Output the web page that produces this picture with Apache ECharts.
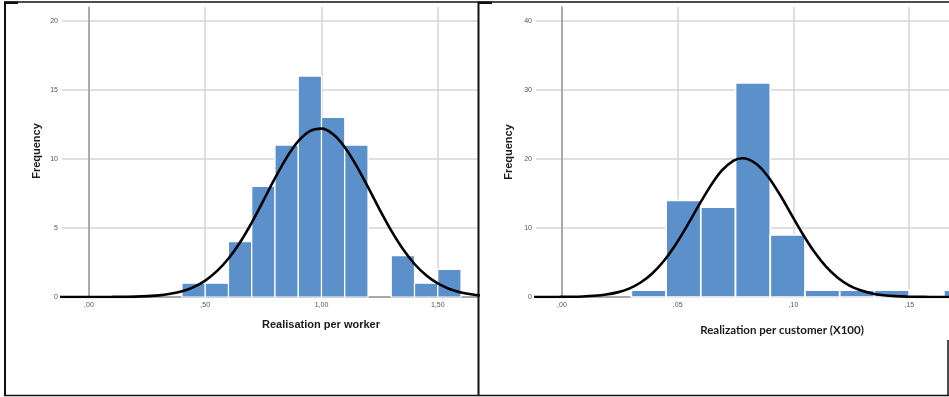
<!DOCTYPE html>
<html><head><meta charset="utf-8">
<script src="https://cdn.jsdelivr.net/npm/echarts@6/dist/echarts.min.js"></script>
<style>html,body{margin:0;padding:0;background:#fff}#c{width:949px;height:397px}</style>
</head><body><div id="c"></div>
<script>
// ---------- Left histogram: Realisation per worker ----------
const leftBinStarts = [0.4, 0.5, 0.6, 0.7, 0.8, 0.9, 1.0, 1.1, 1.2, 1.3, 1.4, 1.5];
const leftBinWidth = 0.1;
const leftCounts = [1, 1, 4, 8, 11, 16, 13, 11, 0, 3, 1, 2];
const leftCurveX = [-0.15, -0.1, 0, 0.1, 0.2, 0.3, 0.35, 0.4, 0.45, 0.5, 0.55, 0.6, 0.65, 0.7, 0.75, 0.8, 0.85, 0.9, 0.95, 1.0, 1.05, 1.1, 1.15, 1.2, 1.25, 1.3, 1.35, 1.4, 1.45, 1.5, 1.55, 1.6, 1.65, 1.7];
const leftCurveY = [0, 0, 0.001, 0.006, 0.03, 0.12, 0.23, 0.41, 0.72, 1.19, 1.87, 2.79, 3.97, 5.39, 6.98, 8.60, 10.09, 11.28, 12.01, 12.19, 11.78, 10.85, 9.52, 7.95, 6.33, 4.80, 3.47, 2.39, 1.57, 0.98, 0.58, 0.33, 0.18, 0.09];
const leftXTicks = [0, 0.5, 1.0, 1.5];
const leftXTickLabels = [',00', ',50', '1,00', '1,50'];
const leftYTicks = [0, 5, 10, 15, 20];
const leftYTickLabels = ['0', '5', '10', '15', '20'];
const leftXTitle = 'Realisation per worker';

// ---------- Right histogram: Realization per customer (X100) ----------
const rightBinStarts = [0.03, 0.045, 0.06, 0.075, 0.09, 0.105, 0.12, 0.135, 0.15, 0.165];
const rightBinWidth = 0.015;
const rightCounts = [1, 14, 13, 31, 9, 1, 1, 1, 0, 1];
const rightCurveX = [-0.016, -0.011, -0.001, 0.004, 0.009, 0.014, 0.019, 0.024, 0.029, 0.034, 0.039, 0.044, 0.049, 0.054, 0.059, 0.064, 0.069, 0.074, 0.078, 0.084, 0.089, 0.094, 0.099, 0.104, 0.109, 0.114, 0.119, 0.124, 0.129, 0.134, 0.139, 0.144, 0.149, 0.154, 0.159, 0.169];
const rightCurveY = [0, 0.002, 0.014, 0.034, 0.078, 0.17, 0.35, 0.67, 1.22, 2.10, 3.41, 5.22, 7.54, 10.27, 13.19, 15.99, 18.29, 19.73, 20.1, 19.27, 17.46, 14.91, 12.01, 9.13, 6.55, 4.43, 2.83, 1.70, 0.97, 0.52, 0.26, 0.12, 0.056, 0.024, 0.009, 0.001];
const rightXTicks = [0, 0.05, 0.10, 0.15];
const rightXTickLabels = [',00', ',05', ',10', ',15'];
const rightYTicks = [0, 10, 20, 30, 40];
const rightYTickLabels = ['0', '10', '20', '30', '40'];
const rightXTitle = 'Realization per customer (X100)';

const yTitle = 'Frequency';

// ---------- styling ----------
const BAR = '#5b90ca';
const GRIDC = '#d6d6d6';
const LABELC = '#555';
const FONT = '"Liberation Sans", Arial, sans-serif';

function histData(starts, w, counts) {
  return starts.map((s, i) => [s, +(s + w).toFixed(6), counts[i]]);
}
function barRenderer(lw) {
  return function (params, api) {
    if (api.value(2) <= 0) return null;
    const p0 = api.coord([api.value(0), api.value(2)]);
    const p1 = api.coord([api.value(1), 0]);
    return {
      type: 'rect',
      shape: { x: p0[0], y: p0[1], width: p1[0] - p0[0], height: p1[1] - p0[1] },
      style: { fill: BAR, stroke: '#ffffff', lineWidth: lw }
    };
  };
}
function pairs(xs, ys) { return xs.map((x, i) => [x, ys[i]]); }
function lookup(ticks, labels) {
  return v => { const i = ticks.findIndex(t => Math.abs(t - v) < 1e-9); return i >= 0 ? labels[i] : ''; };
}
function xAxisCfg(gi, min, max, ticks, labels) {
  return {
    type: 'value', gridIndex: gi, min: min, max: max,
    axisLine: { show: true, onZero: false, lineStyle: { color: '#a8a8a8', width: 2 } },
    axisTick: { show: false, customValues: ticks },
    axisLabel: { customValues: ticks, formatter: lookup(ticks, labels), color: LABELC, fontSize: 7, fontFamily: FONT, margin: 5 },
    splitLine: { show: true, lineStyle: { color: GRIDC, width: 1.5 } }
  };
}
function yAxisCfg(gi, max, ticks, labels) {
  return {
    type: 'value', gridIndex: gi, min: 0, max: max,
    axisLine: { show: true, lineStyle: { color: '#9a9a9a', width: 1.5 } },
    axisTick: { show: false, customValues: ticks },
    axisLabel: { customValues: ticks, formatter: lookup(ticks, labels), color: LABELC, fontSize: 7, fontFamily: FONT, margin: 4 },
    splitLine: { show: true, lineStyle: { color: GRIDC, width: 1.5 } }
  };
}

const chart = echarts.init(document.getElementById('c'), null, { renderer: 'canvas' });
chart.setOption({
  animation: false,
  backgroundColor: '#ffffff',
  grid: [
    { left: 62, top: 7, width: 416, height: 290, outerBoundsMode: 'none' },
    { left: 536, top: 7, width: 413, height: 290, outerBoundsMode: 'none' }
  ],
  xAxis: [
    xAxisCfg(0, -0.116, 1.673, leftXTicks, leftXTickLabels),
    xAxisCfg(1, -0.0112, 0.1672, rightXTicks, rightXTickLabels)
  ],
  yAxis: [
    yAxisCfg(0, 21, leftYTicks, leftYTickLabels),
    yAxisCfg(1, 42, rightYTicks, rightYTickLabels)
  ],
  series: [
    { type: 'custom', xAxisIndex: 0, yAxisIndex: 0, data: histData(leftBinStarts, leftBinWidth, leftCounts),
      renderItem: barRenderer(1.2), encode: { x: [0, 1], y: 2 }, z: 2 },
    { type: 'line', xAxisIndex: 0, yAxisIndex: 0, data: pairs(leftCurveX, leftCurveY), smooth: 0.3,
      showSymbol: false, symbol: 'none', lineStyle: { color: '#000', width: 2.6 }, z: 5 },
    { type: 'custom', xAxisIndex: 1, yAxisIndex: 1, data: histData(rightBinStarts, rightBinWidth, rightCounts),
      renderItem: barRenderer(1.7), encode: { x: [0, 1], y: 2 }, z: 2 },
    { type: 'line', xAxisIndex: 1, yAxisIndex: 1, data: pairs(rightCurveX, rightCurveY), smooth: 0.3,
      showSymbol: false, symbol: 'none', lineStyle: { color: '#000', width: 2.6 }, z: 5 }
  ],
  graphic: [
    { type: 'text', x: 37, y: 151, rotation: Math.PI / 2, z: 50,
      style: { text: yTitle, font: 'bold 11px ' + FONT, fill: '#1a1a1a', textAlign: 'center', textVerticalAlign: 'middle' } },
    { type: 'text', x: 509, y: 152, rotation: Math.PI / 2, z: 50,
      style: { text: yTitle, font: 'bold 11px ' + FONT, fill: '#1a1a1a', textAlign: 'center', textVerticalAlign: 'middle' } },
    { type: 'text', x: 321, y: 325, z: 50,
      style: { text: leftXTitle, font: 'bold 11px ' + FONT, fill: '#1a1a1a', textAlign: 'center', textVerticalAlign: 'middle' } },
    { type: 'text', x: 782, y: 330, z: 50,
      style: { text: rightXTitle, font: 'bold 11.5px Lato, "Open Sans", sans-serif', fill: '#1a1a1a', textAlign: 'center', textVerticalAlign: 'middle' } },
    // panel frames
    { type: 'line', z: 100, shape: { x1: 4, y1: 2, x2: 949, y2: 2 }, style: { stroke: '#111', lineWidth: 1.5 } },
    { type: 'line', z: 100, shape: { x1: 5, y1: 2, x2: 5, y2: 396 }, style: { stroke: '#111', lineWidth: 2 } },
    { type: 'line', z: 100, shape: { x1: 478.5, y1: 2, x2: 478.5, y2: 396 }, style: { stroke: '#111', lineWidth: 2 } },
    { type: 'line', z: 100, shape: { x1: 4, y1: 395.5, x2: 949, y2: 395.5 }, style: { stroke: '#111', lineWidth: 1.5 } },
    { type: 'line', z: 100, shape: { x1: 948, y1: 340, x2: 948, y2: 396 }, style: { stroke: '#111', lineWidth: 1.5 } },
    { type: 'rect', z: 100, shape: { x: 4, y: 1.5, width: 14, height: 2.5 }, style: { fill: '#111' } },
    { type: 'rect', z: 100, shape: { x: 478, y: 1.5, width: 14, height: 2.5 }, style: { fill: '#111' } }
  ]
});
</script>
</body></html>
